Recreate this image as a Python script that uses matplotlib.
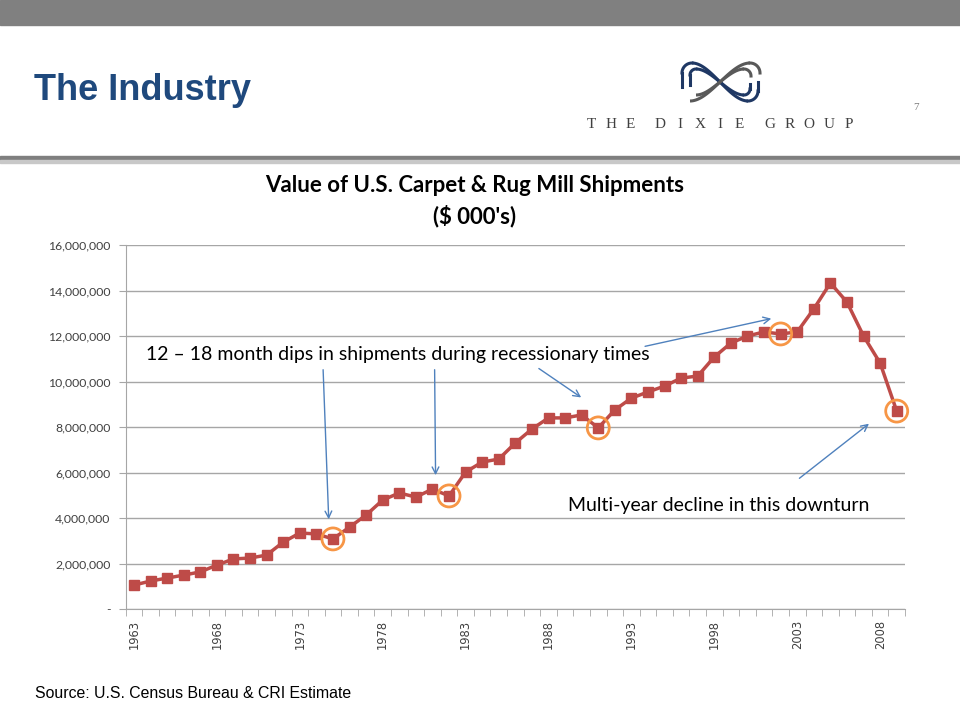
import matplotlib.pyplot as plt
import numpy as np
from matplotlib.patches import Rectangle, Ellipse
from matplotlib.ticker import FuncFormatter, FixedLocator

years = list(range(1963, 2010))
shipments = [1.05, 1.23, 1.36, 1.49, 1.63, 1.93, 2.20, 2.24, 2.37, 2.94,
             3.34, 3.30, 3.08, 3.60, 4.13, 4.79, 5.10, 4.92, 5.27, 4.97,
             6.02, 6.46, 6.59, 7.30, 7.91, 8.40, 8.40, 8.53, 7.96, 8.75,
             9.27, 9.54, 9.80, 10.15, 10.24, 11.08, 11.69, 12.00, 12.18, 12.09,
             12.18, 13.19, 14.33, 13.49, 12.00, 10.81, 8.70]
shipments = np.array(shipments) * 1e6
circled_years = [1975, 1982, 1991, 2002, 2009]
label_years = [1963, 1968, 1973, 1978, 1983, 1988, 1993, 1998, 2003, 2008]

W, H = 960, 720
fig = plt.figure(figsize=(9.6, 7.2), dpi=100)


def fx(px):
    return px / W


def fy(py):
    return 1 - py / H


# header
fig.patches.append(Rectangle((0, fy(25)), 1, 25 / H, transform=fig.transFigure,
                             color='#808080', zorder=0))
fig.patches.append(Rectangle((0, fy(160)), 1, 4 / H, transform=fig.transFigure,
                             color='#7f7f7f', zorder=0))
fig.patches.append(Rectangle((0, fy(163)), 1, 3 / H, transform=fig.transFigure,
                             color='#c8c8c8', zorder=0))
fig.text(fx(34), fy(90), 'The Industry', fontsize=26, fontweight='bold',
         family='Liberation Sans', color='#1f497d', va='center', ha='left')
fig.text(fx(916), fy(107), '7', fontsize=8, color='#7f7f7f', family='Liberation Serif',
         ha='center', va='center')

# company name, letter spaced
xpos = 591
for word in ['THE', 'DIXIE', 'GROUP']:
    for ch in word:
        fig.text(fx(xpos), fy(124), ch, fontsize=11, family='Liberation Serif',
                 color='#404040', ha='center', va='center')
        xpos += 19.8
    xpos += 10

# rough logo
logo = fig.add_axes([fx(678), fy(104), fx(86), 44 / H])
logo.set_xlim(0, 86)
logo.set_ylim(44, 0)
logo.axis('off')


def strand(x0, x1, y0, y1, r, color, lead, tail):
    t = np.linspace(0, 1, 80)
    s = t * t * (3 - 2 * t)
    xs = x0 + (x1 - x0) * t
    ys = y0 + (y1 - y0) * s
    a = np.linspace(np.pi, 1.5 * np.pi, 20) if y1 > y0 else np.linspace(0.5 * np.pi, np.pi, 20)
    # left cap
    cx, cy = x0, y0 + (r if y1 > y0 else -r)
    lx = cx + r * np.cos(a)
    ly = cy + r * np.sin(a) * (1 if y1 > y0 else -1) * (-1 if y1 > y0 else 1)
    logo.plot(xs, ys, color=color, lw=2.2, solid_capstyle='butt')
    if lead is not None:
        arc_a = np.linspace(np.pi, 1.5 * np.pi, 20)
        logo.plot(x0 + r * (1 + np.cos(arc_a)) - r, y0 + r + r * np.sin(arc_a),
                  color=color, lw=2.2)
        logo.plot([x0 - r, x0 - r], [y0 + r, lead], color=color, lw=2.2)
    if tail is not None:
        arc_a = np.linspace(0, 0.5 * np.pi, 20)
        logo.plot(x1 + r * np.cos(arc_a), y1 - r + r * np.sin(arc_a), color=color, lw=2.2)
        logo.plot([x1 + r, x1 + r], [y1 - r, tail], color=color, lw=2.2)


strand(14, 70, 3, 41, 10, '#1f3864', 27, 22)
strand(18, 66, 9, 35, 6, '#1f3864', 25, 24)
strand(12, 72, 41, 3, 0, '#595959', None, None)
strand(18, 66, 35, 9, 0, '#595959', None, None)
a = np.linspace(-0.5 * np.pi, 0, 20)
logo.plot(72 + 10 * np.cos(a), 13 + 10 * np.sin(a), color='#595959', lw=2.2)
logo.plot(66 + 7 * np.cos(a), 16 + 7 * np.sin(a), color='#595959', lw=2.2)

# chart title
fig.text(fx(475), fy(186), 'Value of U.S. Carpet & Rug Mill Shipments', fontsize=16,
         fontweight='bold', family='Lato', ha='center', va='center', color='black')
fig.text(fx(475), fy(216), "($ 000's)", fontsize=16, fontweight='bold', family='Lato',
         ha='center', va='center', color='black')

# main axes
left, right, top, bottom = 125.7, 905, 245, 609
ax = fig.add_axes([fx(left), fy(bottom), fx(right - left), (bottom - top) / H])
x = np.arange(len(years))
ax.plot(x, shipments, color='#be4b48', lw=2.5, marker='s', markersize=7,
        markerfacecolor='#be4b48', markeredgecolor='#be4b48', zorder=3, clip_on=False)
ax.set_xlim(-0.5, len(years) - 0.5)
ax.set_ylim(0, 16e6)
ax.set_yticks(np.arange(0, 16e6 + 1, 2e6))
ax.yaxis.set_major_formatter(FuncFormatter(lambda v, p: '-' if v == 0 else f'{int(v):,}'))
ax.grid(axis='y', color='#a6a6a6', lw=1)
ax.set_axisbelow(True)
for s in ['top', 'right']:
    ax.spines[s].set_visible(False)
ax.spines['left'].set_color('#a6a6a6')
ax.spines['bottom'].set_color('#a6a6a6')

ax.set_xticks([years.index(yr) for yr in label_years])
ax.set_xticklabels([str(yr) for yr in label_years], rotation=90, fontsize=8.3,
                   family='DejaVu Sans', color='#404040')
ax.tick_params(axis='x', length=0, pad=8)
ax.xaxis.set_minor_locator(FixedLocator(np.arange(-0.5, len(years), 1)))
ax.tick_params(axis='x', which='minor', length=5, color='#a6a6a6')
ax.tick_params(axis='y', length=5, color='#a6a6a6', labelsize=8.8, labelcolor='#404040',
               pad=6)
for lab in ax.get_yticklabels():
    lab.set_family('Lato')

# circles around recession dips
px_per_x = (right - left) / len(years)
px_per_y = (bottom - top) / 16e6
for yr in circled_years:
    i = years.index(yr)
    ax.add_patch(Ellipse((i, shipments[i]), 22 / px_per_x, 22 / px_per_y, fill=False,
                         edgecolor='#f79646', lw=2, zorder=4, clip_on=False))

# annotations
ax.text(years.index(1963) + 0.75, 11.2e6,
        '12 \u2013 18 month dips in shipments during recessionary times',
        fontsize=14, family='Lato', ha='left', va='center', color='black')
ax.text(years.index(1989) + 0.2, 4.55e6, 'Multi-year decline in this downturn',
        fontsize=14, family='Lato', ha='left', va='center', color='black')

arrows = [((11.4, 10.64e6), (11.75, 3.82e6)),
          ((18.13, 10.64e6), (18.19, 5.76e6)),
          ((24.28, 10.64e6), (27.11, 9.23e6)),
          ((30.66, 11.52e6), (38.6, 12.79e6)),
          ((40.0, 5.67e6), (44.46, 8.22e6))]
for start, end in arrows:
    ax.annotate('', xy=end, xytext=start,
                arrowprops=dict(arrowstyle='->', color='#4f81bd', lw=1,
                                mutation_scale=12))

fig.text(fx(35), fy(693), 'Source: U.S. Census Bureau & CRI Estimate', fontsize=11.4,
         family='Liberation Sans', color='black', ha='left', va='center')

plt.savefig('out.png', dpi=100)
